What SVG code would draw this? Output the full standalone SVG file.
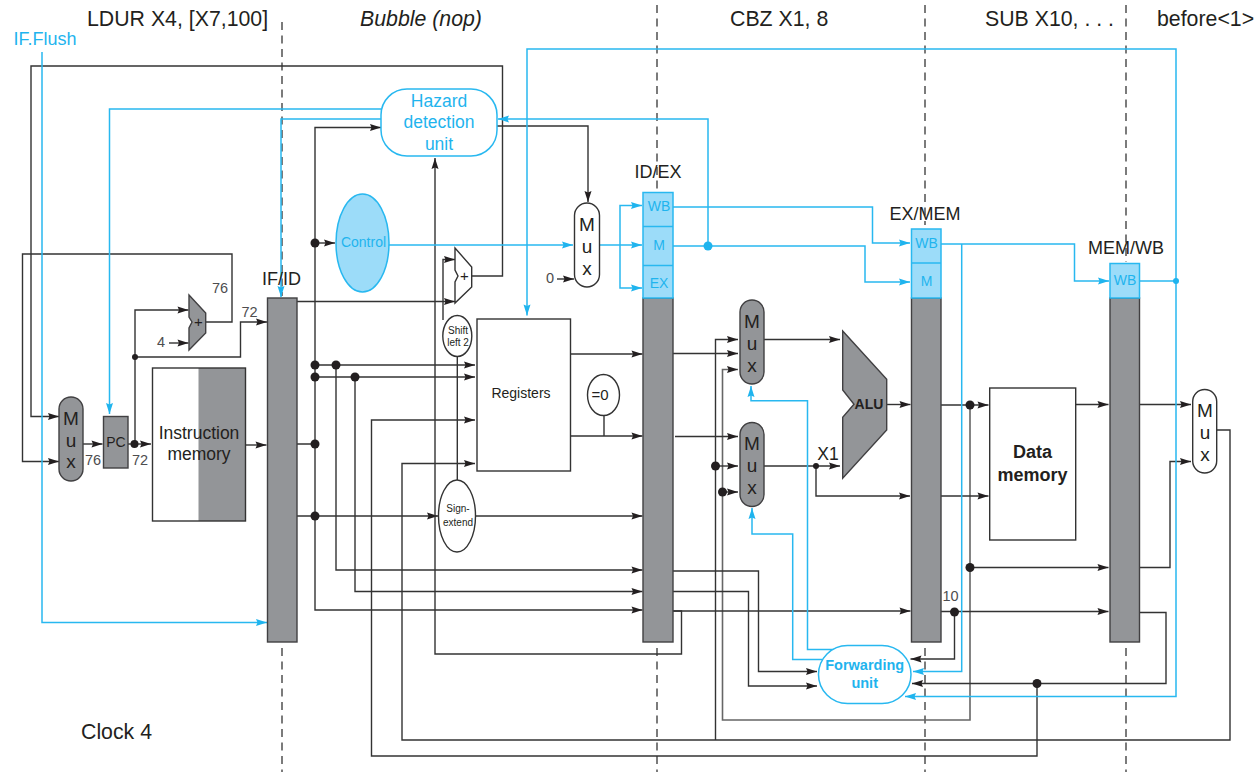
<svg xmlns="http://www.w3.org/2000/svg" width="1260" height="772" viewBox="0 0 1260 772">
<style>
text{font-family:"Liberation Sans",Arial,sans-serif;fill:#231f20;text-anchor:middle}
.t{font-size:21.3px;text-anchor:start}
.b{fill:#1fb4ee}
.mx{font-size:19px}
.n{font-size:14.5px;fill:#4d4d4f}
.w{fill:none;stroke:#333;stroke-width:1.4}
.c{fill:none;stroke:#28b8f0;stroke-width:1.5}
.d{fill:none;stroke:#444;stroke-width:1.4;stroke-dasharray:8 5.5}
.g{fill:#939598;stroke:#414042;stroke-width:1.4}
.wb{fill:#fff;stroke:#333;stroke-width:1.4}
.lb{fill:#9cdcf9;stroke:#28b8f0;stroke-width:1.5}
.p{fill:#231f20}
.pb{fill:#1fb4ee}
</style>
<defs>
<marker id="a" markerUnits="userSpaceOnUse" markerWidth="14" markerHeight="10" refX="12" refY="5" orient="auto"><path d="M1 1.500L12 5L1 8.500L2.500 5Z" fill="#231f20"/></marker>
<marker id="ab" markerUnits="userSpaceOnUse" markerWidth="14" markerHeight="10" refX="12" refY="5" orient="auto"><path d="M1 1.500L12 5L1 8.500L2.500 5Z" fill="#1fb4ee"/></marker>
</defs>
<g id="stage-dividers">
<path class="d" d="M282 22V296M282 648V772M657 5V190M657 648V772M925 5V225M925 648V772M1126 5V262M1126 648V772"/>
</g>
<g id="connectors">
<g marker-end="url(#a)">
<path class="w" d="M472 276H502.500V66H31V416.500H59"/>
<path class="w" d="M206 322H232V254H22.500V461.500H59"/>
<path class="w" d="M135 357H240.500V322H267"/>
<path class="w" d="M135 444V310H188.500"/>
<path class="w" d="M169 343H188.500"/>
<path class="w" d="M83 444H102.500"/>
<path class="w" d="M128 444H151"/>
<path class="w" d="M245.500 445H266.500"/>
<path class="w" d="M443 320V259.500H455"/>
<path class="w" d="M297 301.500H455"/>
<path class="w" d="M297 444H315V127.500H381"/>
<path class="w" d="M315 243H335"/>
<path class="w" d="M315 444V610H642.500"/>
<path class="w" d="M315 365H475"/>
<path class="w" d="M315 377H475"/>
<path class="w" d="M336 365V570H642.500"/>
<path class="w" d="M355 377V591.500H642.500"/>
<path class="w" d="M297 516H438"/>
<path class="w" d="M475 516H642.500"/>
<path class="w" d="M1037 683.500V756H371.500V420H475"/>
<path class="w" d="M1217 430H1230V740H402V463.500H475"/>
<path class="w" d="M673 611H681.500V654H435V158"/>
<path class="w" d="M570.500 354H642.500"/>
<path class="w" d="M570.500 436H642.500"/>
<path class="w" d="M497 126H588V202"/>
<path class="w" d="M557 279H574"/>
<path class="w" d="M715.500 740V339.500H738"/>
<path class="w" d="M673 353.500H738"/>
<path d="M970 405V720H722.500V369.500H738" fill="none" stroke="#666" stroke-width="1.600"/>
<path class="w" d="M675 436.500H738"/>
<path class="w" d="M715.500 466H738"/>
<path class="w" d="M722.500 492H738"/>
<path class="w" d="M764 339.500H840"/>
<path class="w" d="M764 466H840"/>
<path class="w" d="M816 466V496H910"/>
<path class="w" d="M887 404.500H910.500"/>
<path class="w" d="M673 611H910.500"/>
<path class="w" d="M941 405H988.500"/>
<path class="w" d="M941 496H988.500"/>
<path class="w" d="M970 567.500H1108.500"/>
<path class="w" d="M941 611.500H1108.500"/>
<path class="w" d="M954.500 611.500V659H910.500"/>
<path class="w" d="M1076 404.500H1108.500"/>
<path class="w" d="M1139.500 404.500H1191"/>
<path class="w" d="M1139.500 567.500H1170V461.500H1191"/>
<path class="w" d="M1139.500 612.500H1166V683.500H912"/>
<path class="w" d="M673 571H758.500V671.500H817"/>
<path class="w" d="M673 591.500H748.500V686H817"/>
</g>
<path class="w" d="M604 415V436"/>
<path class="w" d="M457.300 356.500V480"/>
<g marker-end="url(#ab)">
<path class="c" d="M381 109H109.500V414"/>
<path class="c" d="M381 119H281V297"/>
<path class="c" d="M42 52V622.500H267"/>
<path class="c" d="M388 245H573"/>
<path class="c" d="M599 245H642"/>
<path class="c" d="M620 245V205.500H642"/>
<path class="c" d="M620 245V288H642"/>
<path class="c" d="M673 207H872.500V243H910"/>
<path class="c" d="M673 246H865V282H910"/>
<path class="c" d="M708 246V119H498"/>
<path class="c" d="M941 244H1074.500V281H1109"/>
<path class="c" d="M961.700 244V671.500H913"/>
<path class="c" d="M1176 281V696.500H905"/>
<path class="c" d="M1176 281V49H527V315.500"/>
<path class="c" d="M822 659.500H792.700V534H752V508"/>
<path class="c" d="M836 649.500H807.500V400.700H751V386"/>
</g>
<path class="c" d="M1140 281H1176"/>
<g class="p">
<circle cx="135" cy="357" r="3"/><circle cx="134.500" cy="444" r="4"/>
<circle cx="315" cy="243" r="4.500"/><circle cx="315" cy="365" r="4.500"/><circle cx="315" cy="377" r="4.500"/><circle cx="315" cy="444" r="4.500"/><circle cx="315" cy="516" r="4.500"/>
<circle cx="336" cy="365" r="4.500"/><circle cx="355" cy="377" r="4.500"/>
<circle cx="715.500" cy="466" r="4.500"/><circle cx="722.500" cy="492" r="4.500"/><circle cx="816" cy="466" r="3"/>
<circle cx="970" cy="405" r="4.500"/><circle cx="970" cy="567.500" r="4.500"/><circle cx="954.500" cy="612" r="4.500"/><circle cx="1037" cy="683.500" r="4.500"/>
</g>
<g class="pb"><circle cx="708" cy="246" r="4.500"/><circle cx="1176" cy="281" r="3"/></g>
</g>
<g id="mux-pc-in"><rect class="g" x="59" y="397" width="24" height="84" rx="12"/><text class="mx" x="71" y="425">M</text><text class="mx" x="71" y="447">u</text><text class="mx" x="71" y="468">x</text></g>
<g id="pc"><rect class="g" x="103.500" y="416.500" width="24.500" height="51.500"/><text x="116" y="447" font-size="14" fill="#414042">PC</text></g>
<g id="instruction-memory"><rect x="152.500" y="368" width="93" height="153" fill="#fff"/><rect x="198.500" y="368" width="47" height="153" fill="#939598"/><rect x="152.500" y="368" width="93" height="153" fill="none" stroke="#333" stroke-width="1.400"/><text x="199" y="439" font-size="17.500" fill="#414042">Instruction</text><text x="199" y="460" font-size="17.500" fill="#414042">memory</text></g>
<g id="pc-adder"><path class="g" d="M189 295L205.700 313V333L189 350V328L192 322L189 317Z"/><text x="198.500" y="327" font-size="15">+</text></g>
<g id="if-id"><rect class="g" x="267.500" y="298" width="29.500" height="344"/><text x="281.500" y="285" font-size="18">IF/ID</text></g>
<g id="control"><ellipse class="lb" cx="362.500" cy="243" rx="26.500" ry="49"/><text class="b" x="363.500" y="247" font-size="14">Control</text></g>
<g id="hazard-detection-unit"><rect x="381" y="89" width="116" height="67" rx="26" fill="#fff" stroke="#28b8f0" stroke-width="1.500"/><text class="b" x="439" y="107" font-size="17.500">Hazard</text><text class="b" x="439" y="128" font-size="17.500">detection</text><text class="b" x="439" y="150" font-size="17.500">unit</text></g>
<g id="branch-adder"><path class="wb" d="M455 248L471.700 267V287L455 303V282L458 276L455 270Z"/><text x="464.500" y="281" font-size="15">+</text></g>
<g id="shift-left-2"><ellipse class="wb" cx="457.300" cy="336" rx="14.500" ry="20.500"/><text x="458" y="334" font-size="10" fill="#414042">Shift</text><text x="458" y="346" font-size="10" fill="#414042">left 2</text></g>
<g id="sign-extend"><ellipse class="wb" cx="457" cy="516" rx="18.500" ry="36"/><text x="458" y="512" font-size="10" fill="#414042">Sign-</text><text x="458" y="526" font-size="10" fill="#414042">extend</text></g>
<g id="registers"><rect class="wb" x="477" y="319" width="93.500" height="152"/><text x="521" y="398" font-size="14" fill="#414042">Registers</text></g>
<g id="zero-test"><ellipse class="wb" cx="603.500" cy="395" rx="16" ry="20.500"/><text x="600" y="400" font-size="15">=0</text></g>
<g id="mux-control"><rect class="wb" x="574.500" y="203" width="25" height="84" rx="12.500"/><text class="mx" x="587" y="231">M</text><text class="mx" x="587" y="253">u</text><text class="mx" x="587" y="275">x</text></g>
<g id="id-ex"><rect class="g" x="643" y="298" width="30" height="344"/><rect class="lb" x="643" y="192.500" width="30" height="105.500"/><path class="c" d="M643 226.500H673M643 265.500H673"/><text class="b" x="659" y="211" font-size="14">WB</text><text class="b" x="659" y="250" font-size="14">M</text><text class="b" x="659" y="288" font-size="14">EX</text><text x="658" y="178" font-size="18">ID/EX</text></g>
<g id="mux-alu-a"><rect class="g" x="740" y="300" width="24" height="84" rx="12"/><text class="mx" x="752" y="328">M</text><text class="mx" x="752" y="350">u</text><text class="mx" x="752" y="372">x</text></g>
<g id="mux-alu-b"><rect class="g" x="740" y="422.500" width="24" height="84" rx="12"/><text class="mx" x="752" y="450">M</text><text class="mx" x="752" y="472">u</text><text class="mx" x="752" y="494">x</text></g>
<g id="alu"><path class="g" d="M842.700 331L886.700 379.300V430L842.700 478.300V417.300L854 404.300L842.700 390Z"/><text x="869" y="409" font-size="14" font-weight="bold">ALU</text></g>
<g id="ex-mem"><rect class="g" x="911.500" y="298" width="29.500" height="344"/><rect class="lb" x="911.500" y="229" width="29.500" height="69"/><path class="c" d="M911.500 263H941"/><text class="b" x="926.500" y="248" font-size="14">WB</text><text class="b" x="926.500" y="286" font-size="14">M</text><text x="925" y="220" font-size="18">EX/MEM</text></g>
<g id="data-memory"><rect class="wb" x="989.700" y="388" width="86" height="152"/><text x="1032.500" y="458" font-size="18" font-weight="bold">Data</text><text x="1032.500" y="481" font-size="18" font-weight="bold">memory</text></g>
<g id="mem-wb"><rect class="g" x="1110" y="298" width="29.500" height="344"/><rect class="lb" x="1110" y="263.500" width="29.500" height="34.500"/><text class="b" x="1125" y="285" font-size="14">WB</text><text x="1126" y="254" font-size="18">MEM/WB</text></g>
<g id="mux-wb"><rect class="wb" x="1192.700" y="389.500" width="24" height="83.500" rx="12"/><text class="mx" x="1205" y="417">M</text><text class="mx" x="1205" y="439">u</text><text class="mx" x="1205" y="461">x</text></g>
<g id="forwarding-unit"><rect x="818.500" y="645.500" width="92.500" height="58" rx="29" fill="#fff" stroke="#28b8f0" stroke-width="1.500"/><text class="b" x="864.700" y="670" font-size="14.500" font-weight="bold">Forwarding</text><text class="b" x="864.700" y="688" font-size="14.500" font-weight="bold">unit</text></g>
<g id="labels">
<text class="t" x="87" y="26">LDUR X4, [X7,100]</text>
<text class="t" x="360" y="26" font-style="italic">Bubble (nop)</text>
<text class="t" x="730" y="26">CBZ X1, 8</text>
<text class="t" x="985" y="26">SUB X10, . . .</text>
<text class="t" x="1157" y="26">before&lt;1&gt;</text>
<text class="b" x="45" y="45" font-size="18">IF.Flush</text>
<text class="t" x="81" y="739">Clock 4</text>
<text class="n" x="220" y="293">76</text>
<text class="n" x="249.500" y="317">72</text>
<text class="n" x="161" y="347">4</text>
<text class="n" x="93" y="465">76</text>
<text class="n" x="140" y="465">72</text>
<text class="n" x="550" y="283">0</text>
<text class="n" x="950.500" y="601">10</text>
<text x="828" y="460" font-size="17.500">X1</text>
</g>
</svg>
